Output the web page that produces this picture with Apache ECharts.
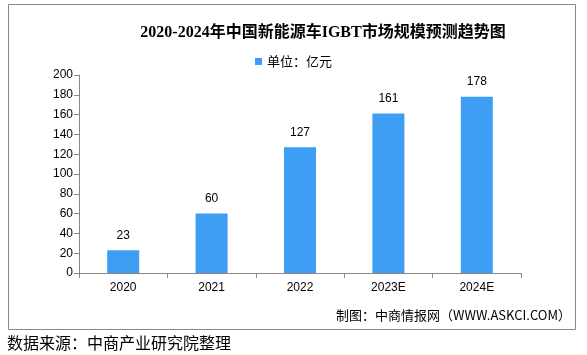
<!DOCTYPE html>
<html><head><meta charset="utf-8">
<script src="https://cdn.jsdelivr.net/npm/echarts@6/dist/echarts.min.js"></script>
<style>html,body{margin:0;padding:0;background:#fff}#c{width:587px;height:355px}</style>
</head><body><div id="c"></div>
<script>
const categories = ['2020', '2021', '2022', '2023E', '2024E'];
const values = [23, 60, 127, 161, 178];
const seriesName = '单位：亿元';
const titleText = '2020-2024年中国新能源车IGBT市场规模预测趋势图';
const creditText = '制图：中商情报网（WWW.ASKCI.COM）';
const sourceText = '数据来源：中商产业研究院整理';

const chart = echarts.init(document.getElementById('c'));
chart.setOption({
  animation: false,
  backgroundColor: '#fff',
  title: {
    text: titleText, left: 318, top: 20, textAlign: 'center',
    textStyle: {fontFamily: 'Liberation Serif, Noto Sans CJK SC', fontSize: 16, fontWeight: 'bold', color: '#000'}
  },
  legend: {
    data: [seriesName], left: 'center', top: 50, itemWidth: 7, itemHeight: 7, itemGap: 4,
    icon: 'rect', textStyle: {fontFamily: 'Noto Sans CJK SC', fontSize: 13, color: '#000'}
  },
  grid: {left: 79, right: 66, top: 75, bottom: 82},
  xAxis: {
    type: 'category', data: categories,
    axisLine: {lineStyle: {color: '#888'}},
    axisTick: {show: true, alignWithLabel: false, length: 5, lineStyle: {color: '#888'}},
    axisLabel: {color: '#000', fontFamily: 'Liberation Sans', fontSize: 12, margin: 9}
  },
  yAxis: {
    type: 'value', min: 0, max: 200, interval: 20,
    axisLine: {show: true, lineStyle: {color: '#888'}},
    axisTick: {show: true, length: 5, lineStyle: {color: '#888'}},
    splitLine: {show: false},
    axisLabel: {color: '#000', fontFamily: 'Liberation Sans', fontSize: 12, margin: 6}
  },
  series: [{
    name: seriesName, type: 'bar', data: values, barWidth: 32,
    itemStyle: {color: '#3d9ef3'},
    label: {show: true, position: 'top', distance: 9, color: '#000', fontFamily: 'Liberation Sans', fontSize: 12}
  }],
  graphic: [
    {type: 'rect', shape: {x: 8.5, y: 4.5, width: 567, height: 325}, style: {fill: 'none', stroke: '#888', lineWidth: 1}, z: -1},
    {type: 'text', right: 16, top: 309, style: {text: creditText, fontFamily: 'Noto Sans CJK SC', fontSize: 13, fill: '#000'}},
    {type: 'text', left: 7, top: 335, style: {text: sourceText, fontFamily: 'Noto Sans CJK SC', fontSize: 16, fill: '#000'}}
  ]
});
</script></body></html>
